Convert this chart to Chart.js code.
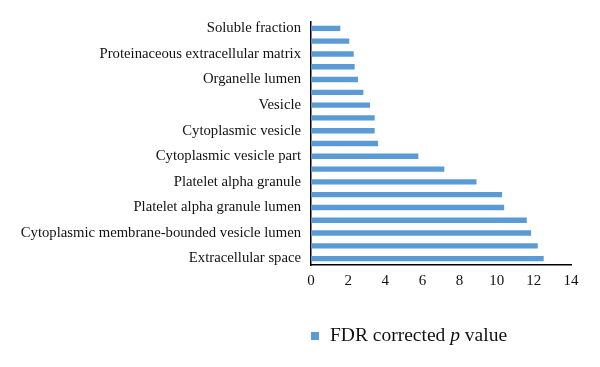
<!DOCTYPE html>
<html>
<head>
<meta charset="utf-8">
<script src="https://cdn.jsdelivr.net/npm/chart.js@4"></script>
<style>
  html, body { margin: 0; padding: 0; background: #fff; }
  #wrap { width: 600px; height: 367px; }
</style>
</head>
<body>
<div id="wrap"><canvas id="myChart"></canvas></div>
<script>
// categories top to bottom; every other one has no readable label in the figure
const categories = [
  'Soluble fraction', '',
  'Proteinaceous extracellular matrix', '',
  'Organelle lumen', '',
  'Vesicle', '',
  'Cytoplasmic vesicle', '',
  'Cytoplasmic vesicle part', '',
  'Platelet alpha granule', '',
  'Platelet alpha granule lumen', '',
  'Cytoplasmic membrane-bounded vesicle lumen', '',
  'Extracellular space'
]
const fdrValues = [
  1.58, 2.06, 2.30, 2.35, 2.53, 2.82, 3.18, 3.43, 3.43, 3.61,
  5.78, 7.18, 8.91, 10.29, 10.40, 11.62, 11.85, 12.21, 12.53
]
const xTicks = [0, 2, 4, 6, 8, 10, 12, 14]
const seriesName = ['FDR corrected ', 'p', ' value']

const serif = '"Liberation Serif", "Times New Roman", serif'
const blue = '#5B9BD5'

// legend drawn by hand so the "p" can be italic
const legendPlugin = {
  id: 'fdrLegend',
  afterDraw(chart) {
    const ctx = chart.ctx
    const x = chart.chartArea.left
    const y = chart.chartArea.bottom + 71
    ctx.save()
    ctx.fillStyle = blue
    ctx.fillRect(x, y - 4, 8, 8)
    ctx.fillStyle = '#111'
    ctx.textBaseline = 'middle'
    let tx = x + 19
    seriesName.forEach((part, i) => {
      ctx.font = (i === 1 ? 'italic ' : '') + '19.5px ' + serif
      ctx.fillText(part, tx, y)
      tx += ctx.measureText(part).width
    })
    ctx.restore()
  }
}

new Chart(document.getElementById('myChart'), {
  type: 'bar',
  data: {
    labels: categories,
    datasets: [{
      label: seriesName.join(''),
      data: fdrValues,
      backgroundColor: blue,
      barPercentage: 0.42,
      categoryPercentage: 1
    }]
  },
  options: {
    indexAxis: 'y',
    responsive: true,
    maintainAspectRatio: false,
    animation: false,
    layout: { padding: { top: 22, right: 29, bottom: 70, left: 0 } },
    plugins: {
      legend: { display: false },
      tooltip: { enabled: false }
    },
    scales: {
      x: {
        min: 0,
        max: 14,
        afterBuildTicks: s => { s.ticks = xTicks.map(v => ({ value: v })) },
        grid: { display: false, drawTicks: false },
        border: { display: true, color: '#000', width: 1.5 },
        ticks: { color: '#111', font: { family: serif, size: 15 }, padding: 7 }
      },
      y: {
        afterFit: s => { s.width = 311 },
        grid: { display: false, drawTicks: false },
        border: { display: true, color: '#000', width: 1.5 },
        ticks: { autoSkip: false, color: '#111', font: { family: serif, size: 14.7 }, padding: 10 }
      }
    }
  },
  plugins: [legendPlugin]
})
</script>
</body>
</html>
